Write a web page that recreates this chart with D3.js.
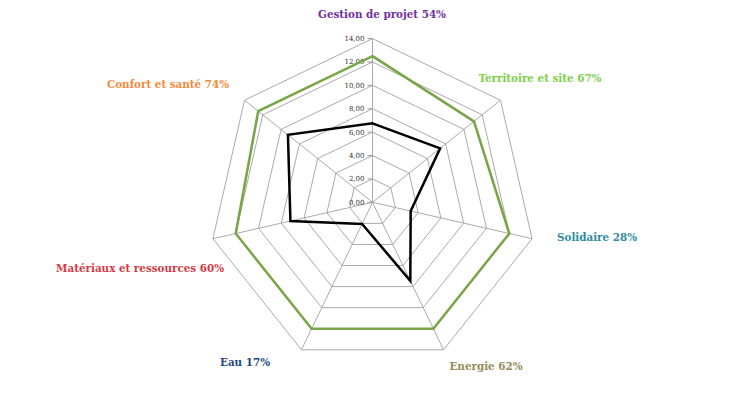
<!DOCTYPE html>
<html>
<head>
<meta charset="utf-8">
<script src="https://cdn.jsdelivr.net/npm/d3@7"></script>
<style>
  body { margin: 0; background: #fff; }
  svg { display: block; }
  .axis-label { font-family: "DejaVu Serif Condensed", "DejaVu Serif", serif; font-weight: bold; font-size: 11.5px; }
  .tick-label { font-family: "DejaVu Serif", serif; font-size: 7px; fill: #333; }
</style>
</head>
<body>
<svg id="chart"></svg>
<script>
// axes of the radar, clockwise from the top
const categories = ["Gestion de projet", "Territoire et site", "Solidaire", "Energie", "Eau", "Matériaux et ressources", "Confort et santé"];
const percents = ["54%", "67%", "28%", "62%", "17%", "60%", "74%"];
const labelColors = ["#7030A0", "#7AD04A", "#2E8CA0", "#958B55", "#1F497D", "#D43A45", "#F38A3A"];
// green = maximum, black = score
const maxValues = [12.5, 11.1, 12.0, 12.0, 12.0, 12.0, 12.5];
const scoreValues = [6.75, 7.4, 3.35, 7.45, 2.05, 7.2, 9.25];
const ticks = [0, 2, 4, 6, 8, 10, 12, 14];

const width = 737, height = 399;
const cx = 372.5, cy = 202.3, radius = 163.7;

const svg = d3.select("#chart").attr("width", width).attr("height", height);
const chart = svg.append("g").attr("transform", `translate(${cx},${cy})`);

const rScale = d3.scaleLinear().domain([0, 14]).range([0, radius]);
const angle = d3.scaleLinear().domain([0, categories.length]).range([0, 2 * Math.PI]);

const radial = d3.lineRadial()
    .angle((d, i) => angle(i))
    .radius(d => rScale(d))
    .curve(d3.curveLinearClosed);

// rings
chart.selectAll(".ring")
    .data(ticks.filter(t => t > 0))
    .enter()
    .append("path")
    .attr("class", "ring")
    .attr("d", t => radial(categories.map(() => t)))
    .attr("fill", "none")
    .attr("stroke", "#aaaaaa")
    .attr("stroke-width", 1);

// spokes
chart.selectAll(".spoke")
    .data(categories)
    .enter()
    .append("line")
    .attr("class", "spoke")
    .attr("x1", 0).attr("y1", 0)
    .attr("x2", (d, i) => rScale(14) * Math.sin(angle(i)))
    .attr("y2", (d, i) => -rScale(14) * Math.cos(angle(i)))
    .attr("stroke", "#aaaaaa")
    .attr("stroke-width", 1);

// value axis on the top spoke
const yAxis = d3.scaleLinear().domain([0, 14]).range([0, -radius]);
chart.selectAll(".tick-mark")
    .data(ticks)
    .enter()
    .append("line")
    .attr("x1", -5).attr("x2", 0)
    .attr("y1", t => yAxis(t)).attr("y2", t => yAxis(t))
    .attr("stroke", "#9a9a9a");

chart.selectAll(".tick-label")
    .data(ticks)
    .enter()
    .append("text")
    .attr("class", "tick-label")
    .attr("x", -8)
    .attr("y", t => yAxis(t))
    .attr("dy", "0.35em")
    .attr("text-anchor", "end")
    .text(t => d3.format(".2f")(t).replace(".", ","));

// series
chart.append("path")
    .attr("d", radial(maxValues))
    .attr("fill", "none")
    .attr("stroke", "#77A646")
    .attr("stroke-width", 2.5)
    .attr("stroke-linejoin", "miter");

chart.append("path")
    .attr("d", radial(scoreValues))
    .attr("fill", "none")
    .attr("stroke", "#000")
    .attr("stroke-width", 2.5)
    .attr("stroke-linejoin", "miter");

// category labels (placed where the reference shows them)
const labelPos = [
    [382, 18, "middle"],
    [540, 82, "middle"],
    [597, 241, "middle"],
    [486, 370, "middle"],
    [245, 366, "middle"],
    [140, 272, "middle"],
    [168, 88, "middle"]
];

svg.selectAll(".axis-label")
    .data(categories)
    .enter()
    .append("text")
    .attr("class", "axis-label")
    .attr("x", (d, i) => labelPos[i][0])
    .attr("y", (d, i) => labelPos[i][1])
    .attr("text-anchor", (d, i) => labelPos[i][2])
    .attr("fill", (d, i) => labelColors[i])
    .text((d, i) => `${d} ${percents[i]}`);
</script>
</body>
</html>
